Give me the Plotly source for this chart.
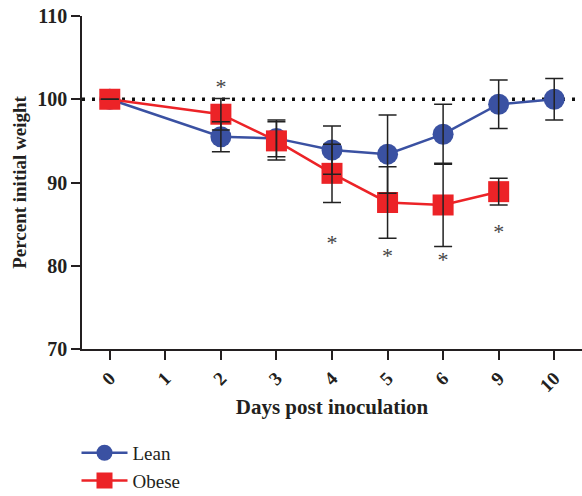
import plotly.graph_objects as go

days = ["0", "1", "2", "3", "4", "5", "6", "9", "10"]

lean_days = ["0", "2", "3", "4", "5", "6", "9", "10"]
lean_mean = [100.0, 95.5, 95.3, 93.9, 93.4, 95.8, 99.4, 100.0]
lean_err = [0.0, 1.8, 2.2, 2.9, 4.7, 3.6, 2.9, 2.5]

obese_days = ["0", "2", "3", "4", "5", "6", "9"]
obese_mean = [100.0, 98.2, 95.0, 91.1, 87.6, 87.3, 88.9]
obese_err = [0.0, 1.9, 2.3, 3.5, 4.3, 5.0, 1.6]

star_days = ["2", "4", "5", "6", "9"]
star_y = [101.3, 82.6, 81.0, 80.5, 83.9]

BLUE = "#3a51a2"
RED = "#ec2327"
FONT = "Liberation Serif"
INK = "#231f20"

fig = go.Figure()

fig.add_trace(go.Scatter(
    x=lean_days, y=lean_mean, mode="lines+markers", name="Lean",
    line=dict(color=BLUE, width=2.5),
    marker=dict(symbol="circle", size=21, color=BLUE),
))
fig.add_trace(go.Scatter(
    x=obese_days, y=obese_mean, mode="lines+markers", name="Obese",
    line=dict(color=RED, width=2.5),
    marker=dict(symbol="square", size=21, color=RED),
))
# error bars drawn on top of markers
for xs, ys, es in [(lean_days, lean_mean, lean_err), (obese_days, obese_mean, obese_err)]:
    fig.add_trace(go.Scatter(
        x=xs, y=ys, mode="markers", showlegend=False, hoverinfo="skip",
        marker=dict(size=1, color="rgba(0,0,0,0)"),
        error_y=dict(type="data", array=es, visible=True, color="#222222",
                     thickness=1.5, width=9),
    ))
fig.add_trace(go.Scatter(
    x=star_days, y=star_y, mode="text", text=["*"] * len(star_days),
    textfont=dict(family=FONT, size=22, color="#444444"),
    showlegend=False, hoverinfo="skip",
))

fig.add_shape(type="line", xref="paper", x0=0, x1=1, yref="y", y0=100, y1=100,
              line=dict(color="#111111", width=3.5, dash="3px,7px"), layer="below")

fig.update_layout(
    width=582, height=496,
    margin=dict(l=82, r=0, t=16, b=147, autoexpand=False),
    plot_bgcolor="white", paper_bgcolor="white",
    font=dict(family=FONT, color=INK),
    showlegend=True,
    legend=dict(x=-0.011, y=-0.255, xanchor="left", yanchor="top",
                font=dict(family=FONT, size=19, color=INK),
                bgcolor="rgba(0,0,0,0)", tracegroupgap=0, itemwidth=46),
)
fig.update_xaxes(
    type="category", categoryorder="array", categoryarray=days,
    tickvals=days, ticktext=["<b>%s</b>" % d for d in days], range=[-0.5, 8.5],
    showline=True, linecolor=INK, linewidth=1.5,
    ticks="outside", ticklen=9, tickwidth=1.5, tickcolor=INK,
    tickangle=-45, tickfont=dict(family=FONT, size=19, color=INK),
    showgrid=False, zeroline=False, automargin=False, ticklabeloverflow="allow",
    title=dict(text="<b>Days post inoculation</b>", font=dict(family=FONT, size=21), standoff=4),
)
fig.update_yaxes(
    range=[70, 110], tickvals=[70, 80, 90, 100, 110],
    ticktext=["<b>70</b>", "<b>80</b>", "<b>90</b>", "<b>100</b>", "<b>110</b>"],
    showline=True, linecolor=INK, linewidth=1.5,
    ticks="outside", ticklen=9, tickwidth=1.5, tickcolor=INK,
    tickfont=dict(family=FONT, size=20, color=INK),
    showgrid=False, zeroline=False, automargin=False, ticklabeloverflow="allow",
    title=dict(text="<b>Percent initial weight</b>", font=dict(family=FONT, size=19), standoff=6),
)

fig.write_html("out.html", config={"displayModeBar": False},
               post_script="document.body.style.margin='0px';")
